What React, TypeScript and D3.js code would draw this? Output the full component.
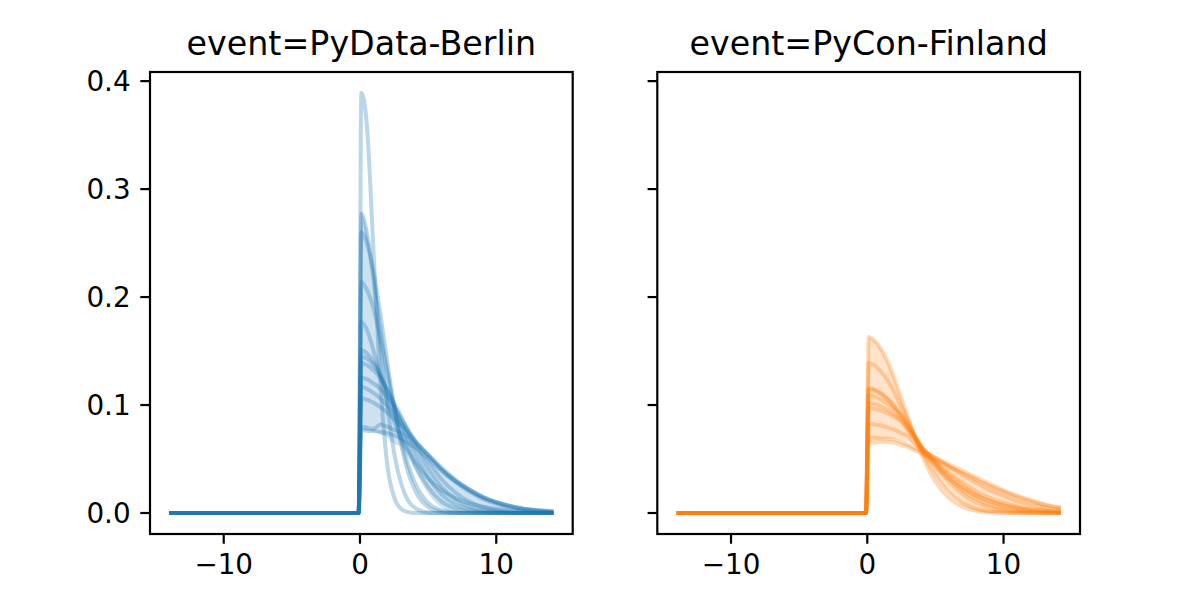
import React from 'react';
import * as d3 from 'd3';

// x positions shared by every curve (the two leading points are the flat part left of 0)
const X_GRID = [-14, -0.1, 0.1, 0.5, 1, 1.5, 2, 2.5, 3, 3.5, 4, 5, 6, 7, 8, 9, 10, 11, 12, 13, 14.2];

// PyData-Berlin draws
const BERLIN_DRAWS = [
  [0, 0, 0.389, 0.36, 0.24, 0.12, 0.045, 0.015, 0.004, 0.001, 0, 0, 0, 0, 0, 0, 0, 0, 0, 0, 0],
  [0, 0, 0.2775, 0.26, 0.215, 0.156, 0.1, 0.056, 0.028, 0.012, 0.005, 0.0005, 0, 0, 0, 0, 0, 0, 0, 0, 0],
  [0, 0, 0.26, 0.25, 0.223, 0.184, 0.14, 0.099, 0.065, 0.039, 0.022, 0.0055, 0.001, 0, 0, 0, 0, 0, 0, 0, 0],
  [0, 0, 0.214, 0.207, 0.189, 0.162, 0.13, 0.098, 0.069, 0.046, 0.029, 0.0094, 0.0024, 0.0005, 0, 0, 0, 0, 0, 0, 0],
  [0, 0, 0.151, 0.148, 0.14, 0.128, 0.112, 0.095, 0.078, 0.061, 0.046, 0.024, 0.0105, 0.004, 0.0013, 0.0004, 0, 0, 0, 0, 0],
  [0, 0, 0.145, 0.143, 0.137, 0.127, 0.114, 0.1, 0.085, 0.07, 0.056, 0.033, 0.017, 0.0079, 0.0032, 0.0012, 0.0004, 0, 0, 0, 0],
  [0, 0, 0.139, 0.137, 0.132, 0.125, 0.114, 0.102, 0.09, 0.076, 0.064, 0.041, 0.024, 0.0127, 0.0061, 0.0027, 0.0011, 0.0004, 0.0001, 0, 0],
  [0, 0, 0.125, 0.124, 0.12, 0.115, 0.107, 0.098, 0.088, 0.078, 0.067, 0.048, 0.031, 0.019, 0.0106, 0.0055, 0.0026, 0.0012, 0.0005, 0.0002, 0],
  [0, 0, 0.117, 0.115, 0.111, 0.106, 0.099, 0.092, 0.084, 0.076, 0.068, 0.053, 0.04, 0.029, 0.02, 0.013, 0.0085, 0.0052, 0.003, 0.0017, 0.0008],
  [0, 0, 0.106, 0.105, 0.102, 0.098, 0.093, 0.087, 0.081, 0.074, 0.067, 0.054, 0.042, 0.031, 0.022, 0.015, 0.01, 0.0065, 0.004, 0.0024, 0.0012],
  [0, 0, 0.08, 0.079, 0.078, 0.082, 0.08, 0.077, 0.074, 0.07, 0.065, 0.054, 0.04, 0.03, 0.022, 0.015, 0.01, 0.0065, 0.004, 0.0025, 0.0014],
  [0, 0, 0.077, 0.076, 0.076, 0.075, 0.074, 0.072, 0.069, 0.065, 0.061, 0.051, 0.039, 0.029, 0.021, 0.0145, 0.0098, 0.0064, 0.004, 0.0025, 0.0015],
];
const BERLIN_MEAN = [0, 0, 0.177, 0.17, 0.15, 0.126, 0.103, 0.085, 0.07, 0.058, 0.048, 0.032, 0.021, 0.014, 0.009, 0.006, 0.0037, 0.0023, 0.0014, 0.0008, 0.0004];
const BERLIN_LOW = [0, 0, 0.077, 0.076, 0.075, 0.073, 0.07, 0.064, 0.062, 0.052, 0.04, 0.018, 0.005, 0, 0, 0, 0, 0, 0, 0, 0];
const BERLIN_HIGH = [0, 0, 0.2775, 0.262, 0.225, 0.185, 0.142, 0.106, 0.088, 0.074, 0.063, 0.05, 0.038, 0.029, 0.021, 0.015, 0.0095, 0.006, 0.0037, 0.0022, 0.0012];

// PyCon-Finland draws
const FINLAND_DRAWS = [
  [0, 0, 0.163, 0.16, 0.152, 0.14, 0.124, 0.106, 0.088, 0.07, 0.054, 0.029, 0.0138, 0.0057, 0.002, 0.0006, 0.0002, 0, 0, 0, 0],
  [0, 0, 0.139, 0.137, 0.131, 0.123, 0.111, 0.098, 0.084, 0.07, 0.057, 0.035, 0.0188, 0.0092, 0.004, 0.0015, 0.0005, 0.0002, 0, 0, 0],
  [0, 0, 0.1155, 0.1144, 0.111, 0.106, 0.099, 0.091, 0.082, 0.072, 0.06, 0.043, 0.029, 0.0175, 0.0098, 0.0051, 0.0024, 0.0011, 0.0004, 0.0002, 0],
  [0, 0, 0.109, 0.108, 0.105, 0.101, 0.0956, 0.0887, 0.079, 0.07, 0.061, 0.046, 0.032, 0.021, 0.013, 0.0075, 0.004, 0.002, 0.001, 0.0004, 0.0002],
  [0, 0, 0.1016, 0.101, 0.0989, 0.0956, 0.0912, 0.0858, 0.077, 0.069, 0.061, 0.047, 0.035, 0.025, 0.017, 0.011, 0.0065, 0.0037, 0.002, 0.001, 0.0004],
  [0, 0, 0.097, 0.0965, 0.0949, 0.0924, 0.0889, 0.0847, 0.077, 0.069, 0.06, 0.048, 0.037, 0.028, 0.02, 0.014, 0.0095, 0.006, 0.0037, 0.0022, 0.0011],
  [0, 0, 0.083, 0.082, 0.081, 0.079, 0.077, 0.074, 0.071, 0.064, 0.059, 0.051, 0.043, 0.035, 0.028, 0.021, 0.016, 0.011, 0.0075, 0.005, 0.003],
  [0, 0, 0.07, 0.07, 0.069, 0.069, 0.068, 0.066, 0.063, 0.06, 0.057, 0.051, 0.045, 0.039, 0.033, 0.027, 0.021, 0.016, 0.012, 0.008, 0.005],
  [0, 0, 0.066, 0.065, 0.066, 0.066, 0.065, 0.063, 0.061, 0.058, 0.055, 0.049, 0.043, 0.037, 0.031, 0.025, 0.02, 0.015, 0.011, 0.0075, 0.0045],
];
const FINLAND_MEAN = [0, 0, 0.1145, 0.1135, 0.11, 0.105, 0.098, 0.09, 0.081, 0.07, 0.059, 0.044, 0.032, 0.023, 0.016, 0.011, 0.0075, 0.005, 0.0032, 0.002, 0.0012];
const FINLAND_LOW = [0, 0, 0.066, 0.067, 0.068, 0.069, 0.069, 0.068, 0.066, 0.062, 0.054, 0.035, 0.019, 0.008, 0.002, 0, 0, 0, 0, 0, 0];
const FINLAND_HIGH = [0, 0, 0.163, 0.16, 0.152, 0.14, 0.124, 0.106, 0.09, 0.076, 0.064, 0.053, 0.045, 0.038, 0.032, 0.026, 0.02, 0.015, 0.011, 0.0075, 0.0048];

const TITLES = ['event=PyData-Berlin', 'event=PyCon-Finland'];
const COLORS = ['#1f77b4', '#ff7f0e'];
const X_TICKS = [-10, 0, 10];
const Y_TICKS = [0, 0.1, 0.2, 0.3, 0.4];

const WIDTH = 1200;
const HEIGHT = 600;
const TOP = 72;
const BOTTOM = 534;
const AX_W = 422.7;
const LEFTS = [150, 657.3];
const FONT = '"DejaVu Sans", sans-serif';

const y = d3.scaleLinear().domain([-0.01945, 0.40845]).range([BOTTOM, TOP]);

const fmtX = (d: number) => (d < 0 ? `\u2212${Math.abs(d)}` : `${d}`);

type PanelProps = {
  idx: number;
  draws: number[][];
  mean: number[];
  low: number[];
  high: number[];
};

function Panel({ idx, draws, mean, low, high }: PanelProps) {
  const left = LEFTS[idx];
  const color = COLORS[idx];
  const x = d3.scaleLinear().domain([-15.41, 15.61]).range([left, left + AX_W]);

  const line = d3.line<number>()
    .x((_, i) => x(X_GRID[i]))
    .y(d => y(d))
    .curve(d3.curveMonotoneX);

  const band = d3.area<number>()
    .x((_, i) => x(X_GRID[i]))
    .y0((_, i) => y(low[i]))
    .y1(d => y(d))
    .curve(d3.curveMonotoneX);

  const clipId = `clip-${idx}`;

  return (
    <g>
      <defs>
        <clipPath id={clipId}>
          <rect x={left} y={TOP} width={AX_W} height={BOTTOM - TOP} />
        </clipPath>
      </defs>
      <g clipPath={`url(#${clipId})`}>
        {draws.map((d, i) => (
          <path key={i} d={line(d) || ''} fill="none" stroke={color}
            strokeOpacity={0.3} strokeWidth={4} strokeLinejoin="round" />
        ))}
        {/* mean line and its spread band, drawn with the same transparency */}
        <path d={band(high) || ''} fill={color} fillOpacity={0.22} stroke="none" />
        <path d={line(mean) || ''} fill="none" stroke={color} strokeOpacity={0.3}
          strokeWidth={4} strokeLinejoin="round" />
      </g>

      {/* frame */}
      <rect x={left} y={TOP} width={AX_W} height={BOTTOM - TOP}
        fill="none" stroke="#000" strokeWidth={2.2} />

      {/* x ticks */}
      {X_TICKS.map(t => (
        <g key={t}>
          <line x1={x(t)} x2={x(t)} y1={BOTTOM} y2={BOTTOM + 9.7} stroke="#000" strokeWidth={2.2} />
          <text x={x(t)} y={BOTTOM + 40} textAnchor="middle" fontFamily={FONT} fontSize={27.8}>
            {fmtX(t)}
          </text>
        </g>
      ))}

      {/* y ticks */}
      {Y_TICKS.map(t => (
        <g key={t}>
          <line x1={left - 9.7} x2={left} y1={y(t)} y2={y(t)} stroke="#000" strokeWidth={2.2} />
          {idx === 0 && (
            <text x={left - 19.4} y={y(t) + 10} textAnchor="end" fontFamily={FONT} fontSize={27.8}>
              {t.toFixed(1)}
            </text>
          )}
        </g>
      ))}

      <text x={left + AX_W / 2} y={TOP - 17} textAnchor="middle" fontFamily={FONT} fontSize={33.3}>
        {TITLES[idx]}
      </text>
    </g>
  );
}

export default function App() {
  return (
    <svg width={WIDTH} height={HEIGHT} viewBox={`0 0 ${WIDTH} ${HEIGHT}`}
      style={{ position: 'absolute', left: 0, top: 0, background: '#fff' }}>
      <rect width={WIDTH} height={HEIGHT} fill="#fff" />
      <Panel idx={0} draws={BERLIN_DRAWS} mean={BERLIN_MEAN} low={BERLIN_LOW} high={BERLIN_HIGH} />
      <Panel idx={1} draws={FINLAND_DRAWS} mean={FINLAND_MEAN} low={FINLAND_LOW} high={FINLAND_HIGH} />
    </svg>
  );
}
